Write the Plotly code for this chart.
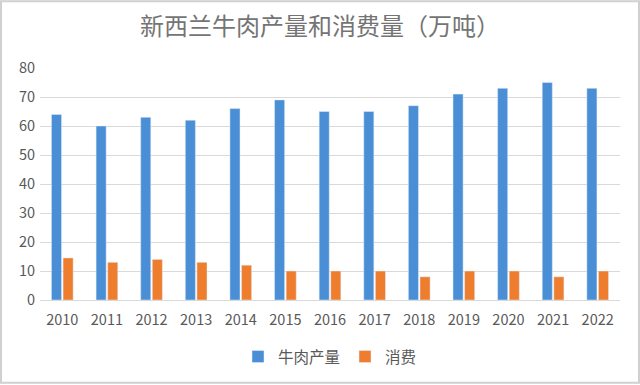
import plotly.graph_objects as go

years = ["2010", "2011", "2012", "2013", "2014", "2015", "2016", "2017", "2018", "2019", "2020", "2021", "2022"]
production = [64, 60, 63, 62, 66, 69, 65, 65, 67, 71, 73, 75, 73]
consumption = [14.5, 13, 14, 13, 12, 10, 10, 10, 8, 10, 10, 8, 10]
series_names = ["牛肉产量", "消费"]
title_text = "新西兰牛肉产量和消费量（万吨）"

fig = go.Figure()
fig.add_trace(go.Bar(x=years, y=production, name=series_names[0], marker_color="#4A8FD6"))
fig.add_trace(go.Bar(x=years, y=consumption, name=series_names[1], marker_color="#EE7D2E"))

font_family = "Noto Sans CJK SC, Noto Sans, sans-serif"
fig.update_layout(
    width=640, height=385,
    paper_bgcolor="white", plot_bgcolor="white",
    margin=dict(l=40, r=20, t=68, b=84),
    barmode="group", bargap=0.48, bargroupgap=0.13,
    title=dict(text=title_text, x=0.5, xanchor="center", y=0.93, yanchor="middle",
               font=dict(family=font_family, size=24, color="#747474")),
    font=dict(family=font_family, color="#595959"),
    xaxis=dict(showgrid=False, showline=True, linecolor="#d9d9d9", ticks="",
               ticklabelstandoff=7, tickfont=dict(size=14.5, color="#595959")),
    yaxis=dict(range=[0, 80], dtick=10, showgrid=True, gridcolor="#d9d9d9",
               zeroline=False, ticks="", ticklabelstandoff=4,
               tickfont=dict(size=14.5, color="#595959")),
    legend=dict(orientation="h", x=0.5, xanchor="center", y=-0.24, yanchor="middle",
                font=dict(size=15.5, color="#595959"), itemwidth=30, traceorder="normal"),
    shapes=[dict(type="rect", xref="paper", yref="paper", x0=-39/580, x1=1+19/580,
                 y0=-83/233, y1=1+67/233, line=dict(color="#d0d0d0", width=2))],
)

fig.write_html("out.html", config={"displayModeBar": False},
               post_script="document.body.style.margin='0';")
